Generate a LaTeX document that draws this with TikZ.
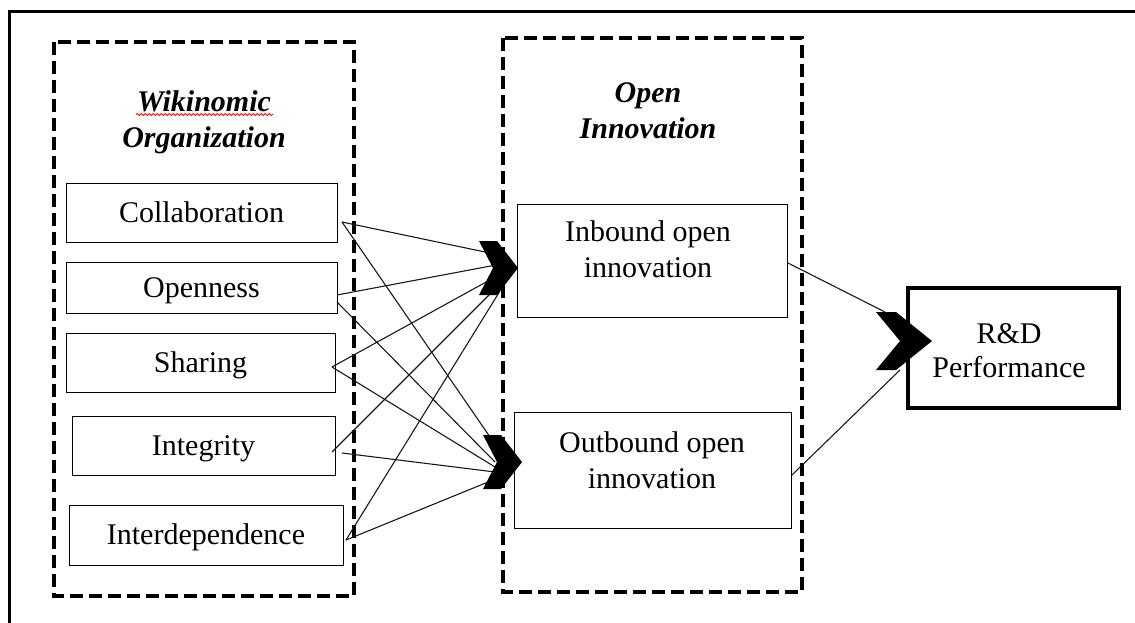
\documentclass[tikz,border=0pt]{standalone}
\usepackage{fontspec}
\setmainfont{Liberation Serif}
\usetikzlibrary{decorations.pathmorphing}

\begin{document}
\begin{tikzpicture}[x=1pt,y=-1pt,
  frame/.style={line width=3.5pt},
  groupbox/.style={draw, line width=4pt, dash pattern=on 13pt off 6pt},
  itembox/.style={draw, line width=1pt, inner sep=0pt,
    font=\fontsize{30}{36}\selectfont, text height=20.5pt, text depth=1.5pt},
  plainbox/.style={draw, line width=1pt, inner sep=0pt},
  boxtext/.style={inner sep=0pt, align=center, anchor=north,
    font=\fontsize{30}{36}\selectfont},
  grouptitle/.style={inner sep=0pt, align=center, anchor=north,
    font=\fontsize{30}{36}\selectfont\bfseries\itshape},
  link/.style={draw=black!90, line width=1.1pt},
  chevron/.pic={\fill (0,0) -- (-21,-27) -- (-39,-27) -- (-25,0)
                  -- (-39,27) -- (-21,27) -- cycle;},
  bigchevron/.pic={\fill (0,0) -- (-36,-29) -- (-56,-29) -- (-32,0)
                  -- (-56,29) -- (-36,29) -- cycle;}
]
\useasboundingbox (0,0) rectangle (1135,623);

% page frame (open at the right and bottom)
\draw[frame] (9.5,623) -- (9.5,11.5) -- (1135,11.5);

% group containers
\draw[groupbox] (54,42) rectangle (354,596);
\draw[groupbox] (503,38) rectangle (802,592);

\node[grouptitle] (wtitle) at (204,90.5) {Wikinomic\\Organization};
\draw[red, line width=0.8pt, decorate,
      decoration={snake, amplitude=1.1pt, segment length=4pt}]
  (136,114.5) -- (273,114.5);
\node[grouptitle] (otitle) at (648,82.5) {Open\\Innovation};

% dimensions of the Wikinomic organisation
\node[itembox, minimum width=271pt, minimum height=59pt] (collab) at (201.5,212.5) {Collaboration};
\node[itembox, minimum width=271pt, minimum height=51pt] (open)   at (201.5,287.5) {Openness};
\node[itembox, minimum width=269pt, minimum height=59pt] (share)  at (200.5,362.5) {Sharing};
\node[itembox, minimum width=263pt, minimum height=59pt] (integ)  at (203.5,445.5) {Integrity};
\node[itembox, minimum width=274pt, minimum height=60pt] (inter)  at (206,535)     {Interdependence};

% open innovation
\node[plainbox, minimum width=270pt, minimum height=113pt] (inb) at (652,260.5) {};
\node[boxtext] (inbT) at (648,220.5) {Inbound open\\innovation};
\node[plainbox, minimum width=277pt, minimum height=116pt] (outb) at (652.5,470) {};
\node[boxtext] (outbT) at (652,431.5) {Outbound open\\innovation};

% outcome
\node[draw, line width=4.5pt, inner sep=0pt, minimum width=211pt, minimum height=120pt] (rd) at (1013.5,348) {};
\node[boxtext, font=\fontsize{30}{34}\selectfont] (rdT) at (1009,323) {R\&D\\Performance};

% connector end points
\coordinate (collabR) at (342,222);
\coordinate (openR1)  at (337,295);
\coordinate (openR2)  at (337,302);
\coordinate (shareR)  at (332,367);
\coordinate (integR1) at (332,452);
\coordinate (integR2) at (342,453);
\coordinate (interR)  at (346,540);

\coordinate (inA) at (485,252);
\coordinate (inB) at (496,265);
\coordinate (inC) at (497,276);
\coordinate (inD) at (499,285);
\coordinate (inE) at (500,291);

\coordinate (outA) at (490,437);
\coordinate (outB) at (495,462);
\coordinate (outC) at (495,467);
\coordinate (outD) at (495,472);
\coordinate (outE) at (493,480);

\coordinate (inbR)  at (788,263);
\coordinate (outbR) at (792,475);
\coordinate (rdA)   at (885,312);
\coordinate (rdB)   at (900,370);

\draw[link] (collabR) -- (inA);  \draw[link] (collabR) -- (outA);
\draw[link] (openR1)  -- (inB);  \draw[link] (openR2)  -- (outB);
\draw[link] (shareR)  -- (inC);  \draw[link] (shareR)  -- (outC);
\draw[link] (integR1) -- (inD);  \draw[link] (integR2) -- (outD);
\draw[link] (interR)  -- (inE);  \draw[link] (interR)  -- (outE);
\draw[link] (inbR)  -- (rdA);
\draw[link] (outbR) -- (rdB);

% chevron heads
\pic at (518,268) {chevron};
\pic at (522,462) {chevron};
\pic at (932,341) {bigchevron};
\end{tikzpicture}
\end{document}
